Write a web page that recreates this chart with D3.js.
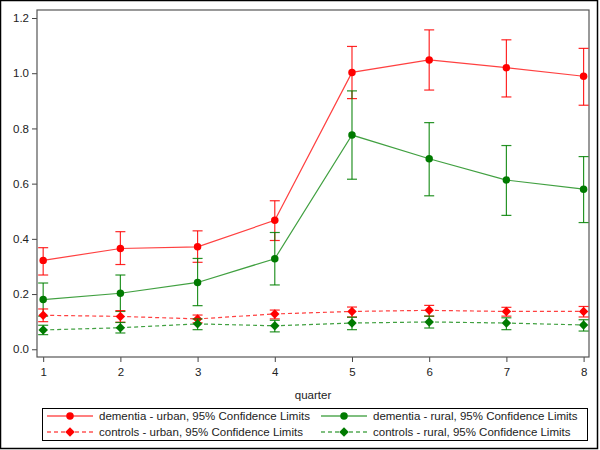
<!DOCTYPE html>
<html>
<head>
<meta charset="utf-8">
<script src="https://cdn.jsdelivr.net/npm/d3@7"></script>
<style>
  body { margin: 0; background: #fff; }
  text { font-family: "Liberation Sans", Arial, sans-serif; fill: #222; }
</style>
</head>
<body>
<div id="chart"></div>
<script>
// quarters on the x axis
var quarters = [1, 2, 3, 4, 5, 6, 7, 8];
var yTicks = [0.0, 0.2, 0.4, 0.6, 0.8, 1.0, 1.2];

// dementia - urban
var demUrban = [0.322, 0.365, 0.371, 0.467, 1.003, 1.048, 1.020, 0.989];
var demUrbanLo = [0.269, 0.307, 0.315, 0.394, 0.908, 0.939, 0.914, 0.884];
var demUrbanHi = [0.368, 0.426, 0.429, 0.538, 1.097, 1.157, 1.121, 1.090];

// dementia - rural
var demRural = [0.180, 0.203, 0.242, 0.328, 0.776, 0.690, 0.613, 0.580];
var demRuralLo = [0.120, 0.137, 0.158, 0.233, 0.616, 0.556, 0.485, 0.459];
var demRuralHi = [0.240, 0.269, 0.329, 0.423, 0.936, 0.821, 0.738, 0.698];

// controls - urban
var conUrban = [0.123, 0.119, 0.110, 0.128, 0.137, 0.141, 0.137, 0.137];
var conUrbanLo = [0.100, 0.098, 0.096, 0.110, 0.117, 0.120, 0.120, 0.117];
var conUrbanHi = [0.146, 0.140, 0.124, 0.142, 0.153, 0.159, 0.152, 0.155];

// controls - rural
var conRural = [0.070, 0.078, 0.092, 0.085, 0.095, 0.099, 0.095, 0.088];
var conRuralLo = [0.053, 0.059, 0.071, 0.063, 0.071, 0.077, 0.071, 0.066];
var conRuralHi = [0.087, 0.097, 0.110, 0.105, 0.116, 0.120, 0.114, 0.107];

var series = [
  { name: "dementia - urban, 95% Confidence Limits", color: "#ff0000", dash: null, shape: "circle", v: demUrban, lo: demUrbanLo, hi: demUrbanHi },
  { name: "dementia - rural, 95% Confidence Limits", color: "#008000", dash: null, shape: "circle", v: demRural, lo: demRuralLo, hi: demRuralHi },
  { name: "controls - urban, 95% Confidence Limits", color: "#ff0000", dash: "4,3", shape: "diamond", v: conUrban, lo: conUrbanLo, hi: conUrbanHi },
  { name: "controls - rural, 95% Confidence Limits", color: "#008000", dash: "4,3", shape: "diamond", v: conRural, lo: conRuralLo, hi: conRuralHi }
];

var svgWidth = 600, svgHeight = 450;
var margin = { top: 10, right: 11, bottom: 93, left: 37 };
var width = svgWidth - margin.left - margin.right;
var height = svgHeight - margin.top - margin.bottom;

var svg = d3.select("#chart").append("svg")
  .attr("width", svgWidth)
  .attr("height", svgHeight);

// outer border
svg.append("rect")
  .attr("x", 0.5).attr("y", 0.5)
  .attr("width", 597).attr("height", 448)
  .attr("fill", "none")
  .attr("stroke", "#000")
  .attr("stroke-width", 1.5);

var g = svg.append("g")
  .attr("transform", "translate(" + margin.left + "," + margin.top + ")");

var x = d3.scaleLinear().domain([0.92, 8.07]).range([0, width]);
var y = d3.scaleLinear().domain([-0.028, 1.229]).range([height, 0]);

// x axis
var xAxis = g.append("g")
  .attr("transform", "translate(0," + height + ")")
  .call(d3.axisBottom(x).tickValues(quarters).tickFormat(d3.format("d")).tickSize(5).tickPadding(6));
xAxis.select(".domain").remove();
xAxis.selectAll("line").attr("stroke", "#444");
xAxis.selectAll("text").attr("font-size", 11.5).attr("fill", "#222");

// y axis
var yAxis = g.append("g")
  .call(d3.axisLeft(y).tickValues(yTicks).tickFormat(d3.format(".1f")).tickSize(5).tickPadding(3));
yAxis.select(".domain").remove();
yAxis.selectAll("line").attr("stroke", "#444");
yAxis.selectAll("text").attr("font-size", 11.5).attr("fill", "#222");

// frame
g.append("rect")
  .attr("x", 0).attr("y", 0)
  .attr("width", width).attr("height", height)
  .attr("fill", "none")
  .attr("stroke", "#555")
  .attr("stroke-width", 1.2);

g.append("text")
  .attr("x", width / 2)
  .attr("y", height + 42)
  .attr("text-anchor", "middle")
  .attr("font-size", 11.5)
  .text("quarter");

var line = d3.line()
  .x(function (d, i) { return x(quarters[i]); })
  .y(function (d) { return y(d); });

var circleSym = d3.symbol().type(d3.symbolCircle).size(44);
var diamondSym = d3.symbol().type(d3.symbolSquare).size(45);

function drawMarker(sel, s) {
  var fill = s.color === "#008000" ? "#007a00" : s.color;
  if (s.shape === "circle") {
    sel.append("path").attr("d", circleSym()).attr("fill", fill);
  } else {
    sel.append("path").attr("d", diamondSym()).attr("transform", "rotate(45)").attr("fill", fill);
  }
}

series.forEach(function (s) {
  var sg = g.append("g");
  sg.append("path")
    .datum(s.v)
    .attr("fill", "none")
    .attr("stroke", s.color)
    .attr("stroke-opacity", 0.75)
    .attr("stroke-width", 1.2)
    .attr("stroke-dasharray", s.dash)
    .attr("d", line);

  // error bars
  quarters.forEach(function (q, i) {
    var cx = x(q);
    var eb = sg.append("g").attr("stroke", s.color).attr("stroke-width", 1.2).attr("stroke-opacity", 0.85);
    eb.append("line").attr("x1", cx).attr("x2", cx).attr("y1", y(s.lo[i])).attr("y2", y(s.hi[i]));
    eb.append("line").attr("x1", cx - 5).attr("x2", cx + 5).attr("y1", y(s.lo[i])).attr("y2", y(s.lo[i]));
    eb.append("line").attr("x1", cx - 5).attr("x2", cx + 5).attr("y1", y(s.hi[i])).attr("y2", y(s.hi[i]));
  });

  quarters.forEach(function (q, i) {
    var m = sg.append("g").attr("transform", "translate(" + x(q) + "," + y(s.v[i]) + ")");
    drawMarker(m, s);
  });
});

// legend
var legend = svg.append("g").attr("transform", "translate(42,408)");
legend.append("rect")
  .attr("x", 0.5).attr("y", 0.5)
  .attr("width", 545).attr("height", 32)
  .attr("fill", "none")
  .attr("stroke", "#000")
  .attr("stroke-width", 1);

var colX = [5, 279];
var rowY = [8, 24];
series.forEach(function (s, i) {
  var lx = colX[i % 2], ly = rowY[Math.floor(i / 2)];
  var item = legend.append("g").attr("transform", "translate(" + lx + "," + ly + ")");
  item.append("line")
    .attr("x1", 0).attr("x2", 46)
    .attr("y1", 0).attr("y2", 0)
    .attr("stroke", s.color)
    .attr("stroke-width", 1.2)
    .attr("stroke-dasharray", s.dash);
  var m = item.append("g").attr("transform", "translate(23,0)");
  drawMarker(m, s);
  item.append("text")
    .attr("x", 52)
    .attr("y", 4)
    .attr("font-size", 11.5)
    .text(s.name);
});
</script>
</body>
</html>
